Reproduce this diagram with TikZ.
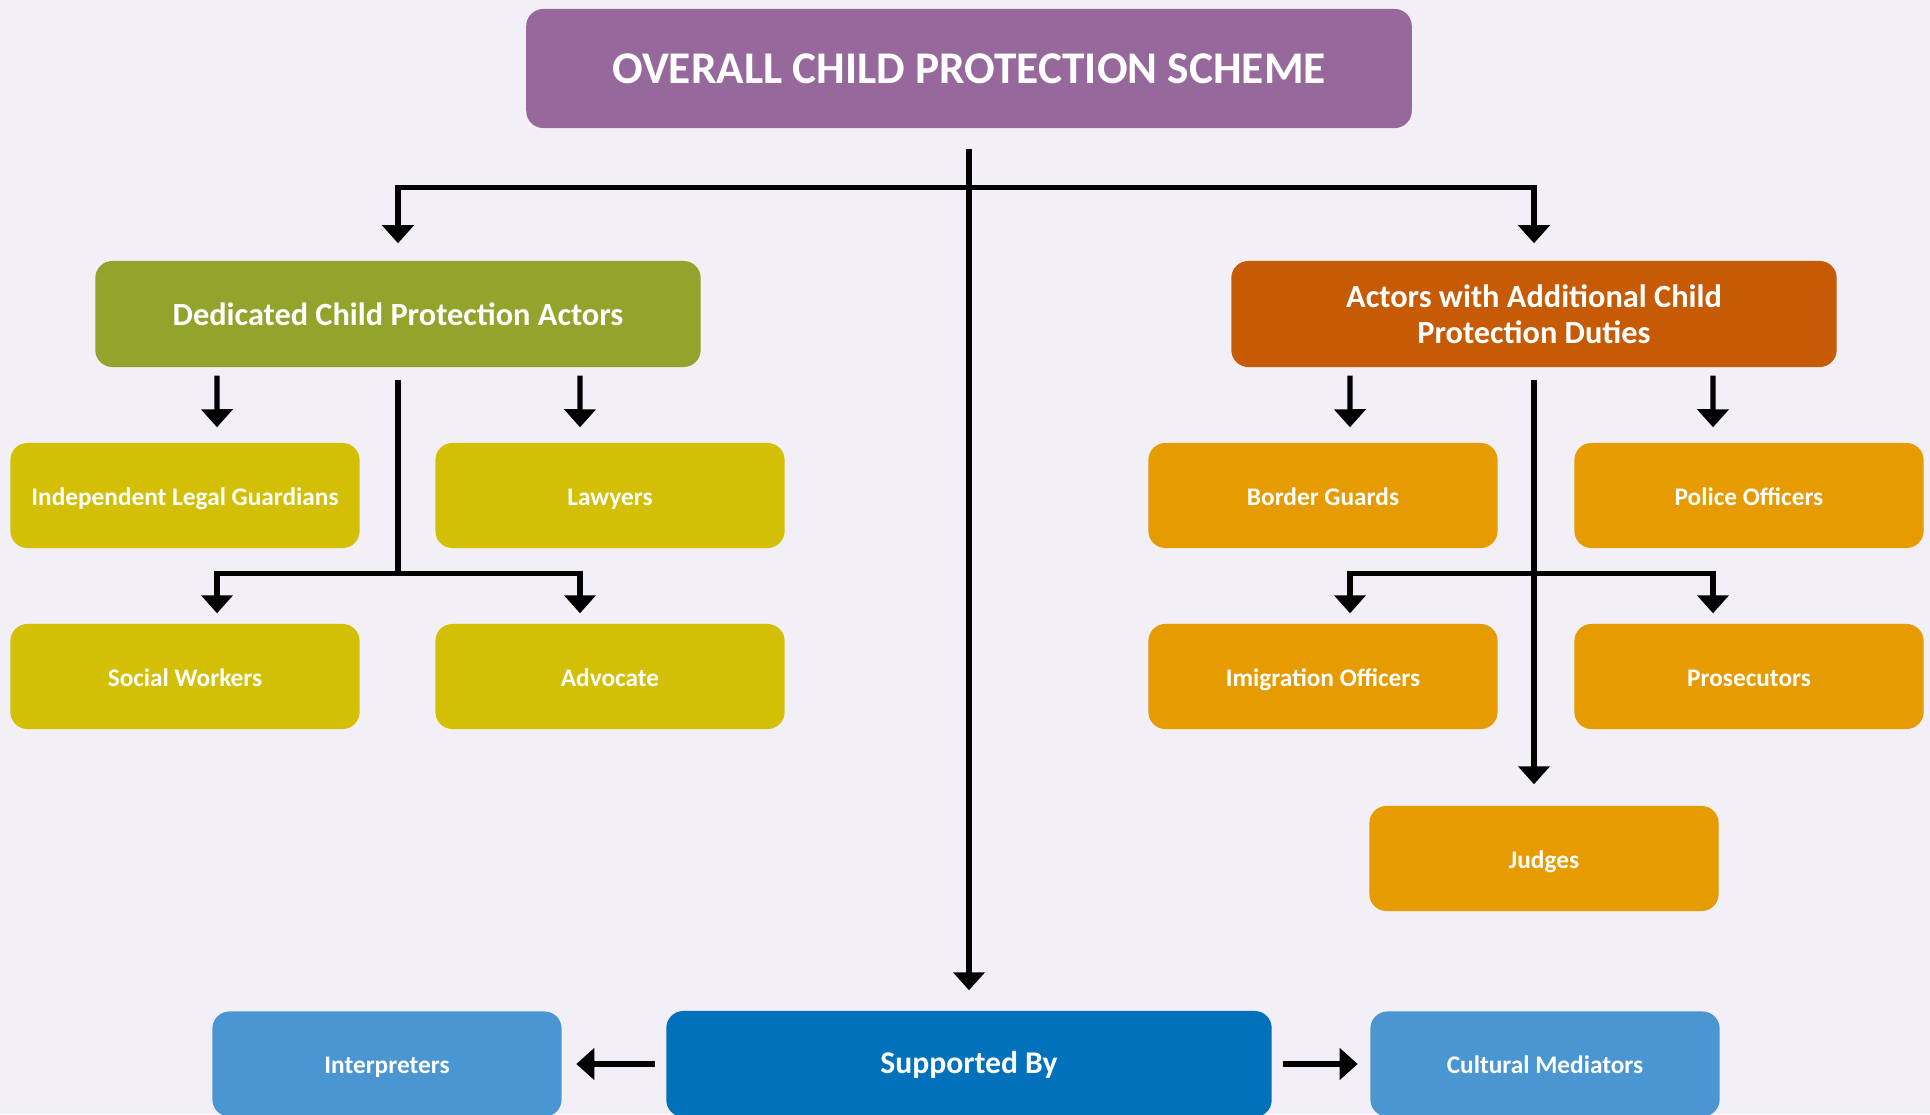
\documentclass[tikz,border=0pt]{standalone}
\usepackage{fontspec}
\setmainfont{Carlito}
\usetikzlibrary{arrows.meta,calc}

\definecolor{pagebg}{HTML}{F3EFF6}
\definecolor{schemepurple}{HTML}{96689C}
\definecolor{dedicatedgreen}{HTML}{93A42C}
\definecolor{dutiesorange}{HTML}{C75A05}
\definecolor{actoryellow}{HTML}{D3C006}
\definecolor{actororange}{HTML}{E69C00}
\definecolor{supportblue}{HTML}{0071BA}
\definecolor{helperblue}{HTML}{4A96D2}

\tikzset{
  roundbox/.style={rounded corners=0.17cm, text=white, align=center, inner sep=0pt},
  box/.style={roundbox, text height=1.6ex, text depth=0.45ex,
    font=\bfseries\fontsize{7.2}{8.6}\selectfont,
    minimum width=3.49cm, minimum height=1.05cm},
  headbox/.style={roundbox, minimum width=6.05cm, minimum height=1.06cm,
    font=\bfseries\fontsize{9.2}{10.2}\selectfont},
  link/.style={line width=1.5pt},
  linkarrow/.style={link, -{Triangle[width=0.31cm,length=0.18cm]}},
}

\begin{document}
\begin{tikzpicture}[x=0.01cm,y=0.01cm]
  \fill[pagebg] (0,0) rectangle (1930,1114);
  \useasboundingbox (0,0) rectangle (1930,1114);

  % top of the scheme
  \node[roundbox, fill=schemepurple, minimum width=8.85cm, minimum height=1.19cm,
        font=\bfseries\fontsize{12.9}{15}\selectfont] (top) at (969,1045.5)
        {OVERALL CHILD PROTECTION SCHEME};

  % the two groups of actors
  \node[headbox, fill=dedicatedgreen] (dcp) at (398,800) {Dedicated Child Protection Actors};
  \node[headbox, fill=dutiesorange] (awd) at (1534,800) {Actors with Additional Child\\Protection Duties};

  \node[box, fill=actoryellow] (ilg) at (185,618.5) {Independent Legal Guardians};
  \node[box, fill=actoryellow] (law) at (610,618.5) {Lawyers};
  \node[box, fill=actoryellow] (sw) at (185,437.5) {Social Workers};
  \node[box, fill=actoryellow] (adv) at (610,437.5) {Advocate};

  \node[box, fill=actororange] (bg) at (1323,618.5) {Border Guards};
  \node[box, fill=actororange] (po) at (1749,618.5) {Police Officers};
  \node[box, fill=actororange] (imo) at (1323,437.5) {Imigration Officers};
  \node[box, fill=actororange] (pro) at (1749,437.5) {Prosecutors};
  \node[box, fill=actororange] (jud) at (1544,255.5) {Judges};

  % support row
  \node[headbox, fill=supportblue, text height=1.6ex, text depth=0.45ex,
        font=\bfseries\fontsize{9}{11}\selectfont] (sup) at (969,50) {Supported By};
  \node[box, fill=helperblue] (interp) at (387,50) {Interpreters};
  \node[box, fill=helperblue] (cm) at (1545,50) {Cultural Mediators};

  % connectors
  \coordinate (tj) at ([yshift=-0.59cm]top.south);
  \draw[linkarrow, shorten <=0.2cm, shorten >=0.2cm] (top.south) -- (sup.north);
  \draw[linkarrow, shorten >=0.17cm] (tj) -| (dcp.north);
  \draw[linkarrow, shorten >=0.17cm] (tj) -| (awd.north);

  \draw[linkarrow, shorten <=0.08cm, shorten >=0.15cm] ([xshift=-1.81cm]dcp.south) -- ([xshift=0.32cm]ilg.north);
  \draw[linkarrow, shorten <=0.08cm, shorten >=0.15cm] ([xshift=1.82cm]dcp.south) -- ([xshift=-0.30cm]law.north);
  \coordinate (lj) at ($(sw.north -| dcp.south)+(0,50)$);
  \draw[link, shorten <=0.12cm] (dcp.south) -- (lj);
  \draw[linkarrow, shorten >=0.1cm] (lj) -| ([xshift=0.32cm]sw.north);
  \draw[linkarrow, shorten >=0.1cm] (lj) -| ([xshift=-0.30cm]adv.north);

  \draw[linkarrow, shorten <=0.08cm, shorten >=0.15cm] ([xshift=-1.84cm]awd.south) -- ([xshift=0.27cm]bg.north);
  \draw[linkarrow, shorten <=0.08cm, shorten >=0.15cm] ([xshift=1.79cm]awd.south) -- ([xshift=-0.36cm]po.north);
  \coordinate (rj) at ($(imo.north -| awd.south)+(0,50)$);
  \draw[linkarrow, shorten <=0.12cm, shorten >=0.21cm] (awd.south) -- (awd.south |- jud.north);
  \draw[linkarrow, shorten >=0.1cm] (rj) -| ([xshift=0.27cm]imo.north);
  \draw[linkarrow, shorten >=0.1cm] (rj) -| ([xshift=-0.36cm]pro.north);

  \draw[linkarrow, shorten <=0.11cm, shorten >=0.14cm] (sup.west) -- (interp.east);
  \draw[linkarrow, shorten <=0.11cm, shorten >=0.12cm] (sup.east) -- (cm.west);
\end{tikzpicture}
\end{document}
